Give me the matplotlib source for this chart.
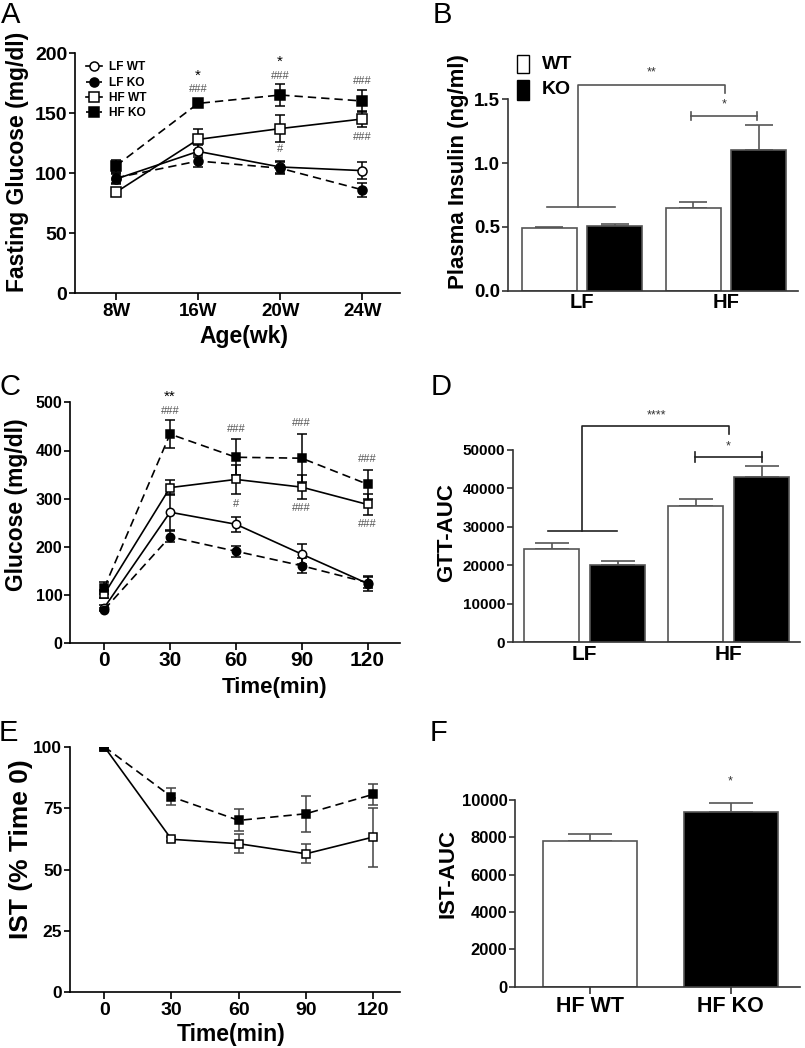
import matplotlib
matplotlib.use("Agg")
import matplotlib.pyplot as plt
from matplotlib.patches import Rectangle
import numpy as np

plt.rcParams['font.family'] = ['Liberation Sans', 'DejaVu Sans']

# ---------------- data ----------------
weeks = ['8W', '16W', '20W', '24W']
A_lfwt = [95, 118, 105, 102]
A_lfwt_err = [4, 5, 5, 7]
A_lfko = [96, 110, 104, 86]
A_lfko_err = [4, 5, 5, 6]
A_hfwt = [84, 128, 137, 145]
A_hfwt_err = [3, 9, 11, 7]
A_hfko = [106, 158, 165, 160]
A_hfko_err = [5, 2, 9, 9]

B_groups = ['LF', 'HF']
B_wt = [0.49, 0.65]
B_wt_err = [0.008, 0.047]
B_ko = [0.505, 1.10]
B_ko_err = [0.018, 0.20]

times = [0, 30, 60, 90, 120]
C_lfwt = [74, 272, 247, 185, 124]
C_lfwt_err = [5, 37, 16, 20, 15]
C_lfko = [70, 221, 191, 161, 126]
C_lfko_err = [4, 11, 11, 15, 12]
C_hfwt = [102, 323, 340, 324, 288]
C_hfwt_err = [8, 15, 30, 25, 22]
C_hfko = [115, 434, 386, 384, 330]
C_hfko_err = [12, 29, 37, 50, 30]

D_groups = ['LF', 'HF']
D_wt = [24200, 35500]
D_wt_err = [1560, 1650]
D_ko = [20100, 43000]
D_ko_err = [1130, 2860]

E_hfwt = [100, 62.3, 60.5, 56.4, 63.2]
E_hfwt_err = [0, 0.8, 3.8, 3.8, 12]
E_hfko = [100, 79.6, 70, 72.7, 80.6]
E_hfko_err = [0, 3.4, 4.5, 7.3, 4.2]

F_labels = ['HF WT', 'HF KO']
F_vals = [7820, 9380]
F_err = [340, 440]

# ---------------- layout helpers ----------------
W, H = 805, 1048
fig = plt.figure(figsize=(W / 100, H / 100), dpi=100)


def add_ax(x0, x1, ytop, ybot):
    return fig.add_axes([x0 / W, 1 - ybot / H, (x1 - x0) / W, (ybot - ytop) / H])


def ftext(x, y, s, **kw):
    kw.setdefault('ha', 'center')
    kw.setdefault('va', 'center')
    fig.text(x / W, 1 - y / H, s, **kw)


def style(ax, color='black', ylab_size=13, xlab_size=13, xticks=True, xpad=2):
    for s in ['top', 'right']:
        ax.spines[s].set_visible(False)
    for s in ['left', 'bottom']:
        ax.spines[s].set_color(color)
        ax.spines[s].set_linewidth(1.2)
    ax.tick_params(axis='y', direction='out', length=4, width=1.2, color=color,
                   labelsize=ylab_size, pad=1.5)
    ax.tick_params(axis='x', direction='out', length=5 if xticks else 0, width=1.2,
                   color=color, labelsize=xlab_size, pad=xpad)
    for lb in ax.get_xticklabels() + ax.get_yticklabels():
        lb.set_fontweight('bold')


DASH = (0, (5, 3))
HASH_C = '#555555'

# ---------------- Panel A ----------------
axA = add_ax(75, 400, 53, 293)
xA = np.arange(len(weeks))
series_A = [
    (A_lfwt, A_lfwt_err, 'o', 'white', '-', 'LF WT'),
    (A_lfko, A_lfko_err, 'o', 'black', DASH, 'LF KO'),
    (A_hfwt, A_hfwt_err, 's', 'white', '-', 'HF WT'),
    (A_hfko, A_hfko_err, 's', 'black', DASH, 'HF KO'),
]
handles = []
for vals, err, mk, fc, ls, lab in series_A:
    axA.errorbar(xA, vals, yerr=err, fmt='none', ecolor='black', elinewidth=1.1,
                 capsize=3.5, capthick=1.1, zorder=2)
    h, = axA.plot(xA, vals, linestyle=ls, color='black', lw=1.2, marker=mk,
                  markersize=6.5, markerfacecolor=fc, markeredgecolor='black',
                  markeredgewidth=1.1, label=lab, zorder=3)
    handles.append(h)
axA.set_xlim(-0.5, 3.46)
axA.set_ylim(0, 200)
axA.set_yticks([0, 50, 100, 150, 200])
axA.set_xticks(xA)
axA.set_xticklabels(weeks)
style(axA, ylab_size=14, xlab_size=13.5)
leg = axA.legend(handles=handles, loc='upper left', bbox_to_anchor=(0.02, 0.985),
                 frameon=False, handlelength=1.3, handletextpad=0.6,
                 labelspacing=0.28, borderaxespad=0,
                 prop={'weight': 'bold', 'size': 8.6})
for t, y, s, c, fs in [(1, 181, '*', 'black', 11), (1, 170, '###', HASH_C, 8),
                       (2, 193, '*', 'black', 11), (2, 180.5, '###', HASH_C, 8),
                       (3, 177, '###', HASH_C, 8), (3, 130, '###', HASH_C, 8),
                       (2, 120, '#', HASH_C, 8)]:
    axA.text(t, y, s, ha='center', va='center', color=c, fontsize=fs, clip_on=False)
ftext(17.5, 161.7, 'Fasting Glucose (mg/dl)', rotation=90, fontsize=16.5, fontweight='bold')
ftext(244, 336, 'Age(wk)', fontsize=16.5, fontweight='bold')

# ---------------- bar helper ----------------
GRAY = '#555555'


def grouped_bars(ax, wt, wt_err, ko, ko_err, width, off, cap):
    x = np.arange(len(wt))
    ax.bar(x - off, wt, width, color='white', edgecolor=GRAY, linewidth=1.2, zorder=2)
    ax.bar(x + off, ko, width, color='black', edgecolor=GRAY, linewidth=1.2, zorder=2)
    for xs, v, e in [(x - off, wt, wt_err), (x + off, ko, ko_err)]:
        ax.errorbar(xs, v, yerr=[np.zeros(len(v)), e], fmt='none', ecolor=GRAY,
                    elinewidth=1.2, capsize=cap, capthick=1.2, zorder=1)
    return x


# ---------------- Panel B ----------------
axB = add_ax(508, 798, 54.6, 290.7)
xB = grouped_bars(axB, B_wt, B_wt_err, B_ko, B_ko_err, 0.382, 0.229, 10)
axB.set_xlim(-0.514, 1.5)
axB.set_ylim(0, 1.85)
axB.set_yticks([0, 0.5, 1.0, 1.5])
axB.set_yticklabels(['0.0', '0.5', '1.0', '1.5'])
axB.set_xticks(xB)
axB.set_xticklabels(B_groups)
style(axB, color='#333333', ylab_size=13.5, xlab_size=14.5, xticks=False)
axB.spines['left'].set_bounds(0, 1.5)
bk = dict(color=GRAY, lw=1.2, clip_on=False)
axB.plot([-0.245, 0.23], [0.658, 0.658], **bk)
axB.plot([-0.03, -0.03, 0.99, 0.99], [0.658, 1.61, 1.61, 1.547], **bk)
axB.plot([0.757, 1.213], [1.37, 1.37], **bk)
axB.plot([0.757, 0.757], [1.34, 1.40], **bk)
axB.plot([1.213, 1.213], [1.34, 1.40], **bk)
axB.text(0.48, 1.71, '**', ha='center', va='center', fontsize=9, color='#333333')
axB.text(0.985, 1.46, '*', ha='center', va='center', fontsize=9, color='#333333')
ftext(458, 171.7, 'Plasma Insulin (ng/ml)', rotation=90, fontsize=16, fontweight='bold')
fig.patches.append(Rectangle((516.7 / W, 1 - 73.3 / H), 12.6 / W, 18.3 / H,
                             transform=fig.transFigure, facecolor='white',
                             edgecolor='black', lw=1.0))
fig.patches.append(Rectangle((516.7 / W, 1 - 100 / H), 12.6 / W, 20 / H,
                             transform=fig.transFigure, facecolor='black',
                             edgecolor='black', lw=1.0))
ftext(541.7, 64.5, 'WT', ha='left', fontsize=14, fontweight='bold')
ftext(541.7, 90, 'KO', ha='left', fontsize=14, fontweight='bold')

# ---------------- Panel C ----------------
axC = add_ax(70, 400, 402.3, 643.3)
series_C = [
    (C_lfwt, C_lfwt_err, 'o', 'white', '-'),
    (C_lfko, C_lfko_err, 'o', 'black', DASH),
    (C_hfwt, C_hfwt_err, 's', 'white', '-'),
    (C_hfko, C_hfko_err, 's', 'black', DASH),
]
for vals, err, mk, fc, ls in series_C:
    axC.errorbar(times, vals, yerr=err, fmt='none', ecolor='black', elinewidth=1.1,
                 capsize=3.5, capthick=1.1, zorder=2)
    axC.plot(times, vals, linestyle=ls, color='black', lw=1.2, marker=mk,
             markersize=6, markerfacecolor=fc, markeredgecolor='black',
             markeredgewidth=1.1, zorder=3)
axC.set_xlim(-15.6, 134.8)
axC.set_ylim(0, 500)
axC.set_yticks([0, 100, 200, 300, 400, 500])
axC.set_xticks(times)
style(axC, ylab_size=11.5, xlab_size=15, xpad=0.5)
for t, y, s, c, fs in [(30, 512, '**', 'black', 11), (30, 481, '###', HASH_C, 8),
                       (60, 445, '###', HASH_C, 8), (60, 290, '#', HASH_C, 8),
                       (90, 458, '###', HASH_C, 8), (90, 280, '###', HASH_C, 8),
                       (120, 382, '###', HASH_C, 8), (120, 247, '###', HASH_C, 8)]:
    axC.text(t, y, s, ha='center', va='center', color=c, fontsize=fs, clip_on=False)
ftext(16.7, 505, 'Glucose (mg/dl)', rotation=90, fontsize=16.5, fontweight='bold')
ftext(275, 687, 'Time(min)', fontsize=16, fontweight='bold')

# ---------------- Panel D ----------------
axD = add_ax(512.7, 800, 403.8, 642.3)
xD = grouped_bars(axD, D_wt, D_wt_err, D_ko, D_ko_err, 0.382, 0.229, 12)
axD.set_xlim(-0.5, 1.494)
axD.set_ylim(0, 62000)
axD.set_yticks([0, 10000, 20000, 30000, 40000, 50000])
axD.set_xticks(xD)
axD.set_xticklabels(D_groups)
style(axD, color='#333333', ylab_size=11, xlab_size=15, xticks=False)
axD.spines['left'].set_bounds(0, 50000)
bk = dict(color='#222222', lw=1.2, clip_on=False)
axD.plot([-0.253, 0.226], [28940, 28940], **bk)
axD.plot([-0.02, -0.02, 1.0, 1.0], [28940, 56240, 56240, 54160], **bk)
axD.plot([0.767, 1.228], [48180, 48180], **bk)
axD.plot([0.767, 0.767], [47000, 49400], **bk)
axD.plot([1.228, 1.228], [47000, 49400], **bk)
axD.text(0.5, 59100, '****', ha='center', va='center', fontsize=9, color='#333333')
axD.text(0.995, 50870, '*', ha='center', va='center', fontsize=9, color='#333333')
ftext(447, 532.5, 'GTT-AUC', rotation=90, fontsize=16, fontweight='bold')

# ---------------- Panel E ----------------
axE = add_ax(70, 400, 746.7, 992.3)
axE.errorbar(times, E_hfwt, yerr=E_hfwt_err, fmt='none', ecolor='#444444',
             elinewidth=1.1, capsize=3.5, capthick=1.1, zorder=2)
axE.errorbar(times, E_hfko, yerr=E_hfko_err, fmt='none', ecolor='#444444',
             elinewidth=1.1, capsize=3.5, capthick=1.1, zorder=2)
axE.plot(times, E_hfwt, linestyle='-', color='black', lw=1.2, marker='s',
         markersize=6, markerfacecolor='white', markeredgecolor='black',
         markeredgewidth=1.1, zorder=3)
axE.plot(times, E_hfko, linestyle=DASH, color='black', lw=1.2, marker='s',
         markersize=6, markerfacecolor='black', markeredgecolor='black',
         markeredgewidth=1.1, zorder=3)
axE.set_xlim(-15.3, 132)
axE.set_ylim(0, 100)
axE.set_yticks([0, 25, 50, 75, 100])
axE.set_xticks(times)
style(axE, ylab_size=12.5, xlab_size=14)
ftext(21, 849, 'IST (% Time 0)', rotation=90, fontsize=19, fontweight='bold')
ftext(231.5, 1035, 'Time(min)', fontsize=16.5, fontweight='bold')

# ---------------- Panel F ----------------
axF = add_ax(515, 800, 772, 986.7)
xF = np.arange(len(F_labels))
axF.bar(xF, F_vals, 0.67, color=['white', 'black'], edgecolor=GRAY, linewidth=1.2, zorder=2)
axF.errorbar(xF, F_vals, yerr=[np.zeros(len(F_vals)), F_err], fmt='none', ecolor=GRAY,
             elinewidth=1.2, capsize=16, capthick=1.2, zorder=1)
axF.set_xlim(-0.536, 1.494)
axF.set_ylim(0, 11500)
axF.set_yticks([0, 2000, 4000, 6000, 8000, 10000])
axF.set_xticks(xF)
axF.set_xticklabels(F_labels)
style(axF, color='#333333', ylab_size=12, xlab_size=15.5)
axF.spines['left'].set_bounds(0, 10000)
axF.text(0.995, 10980, '*', ha='center', va='center', fontsize=9, color='#333333')
ftext(448, 873.5, 'IST-AUC', rotation=90, fontsize=16, fontweight='bold')

# ---------------- panel letters ----------------
for s, x, y in [('A', 11, 15), ('B', 442, 15), ('C', 10, 387),
                ('D', 441, 387), ('E', 8, 733), ('F', 438, 733)]:
    ftext(x, y, s, fontsize=21)

fig.savefig('out.png', dpi=100)
